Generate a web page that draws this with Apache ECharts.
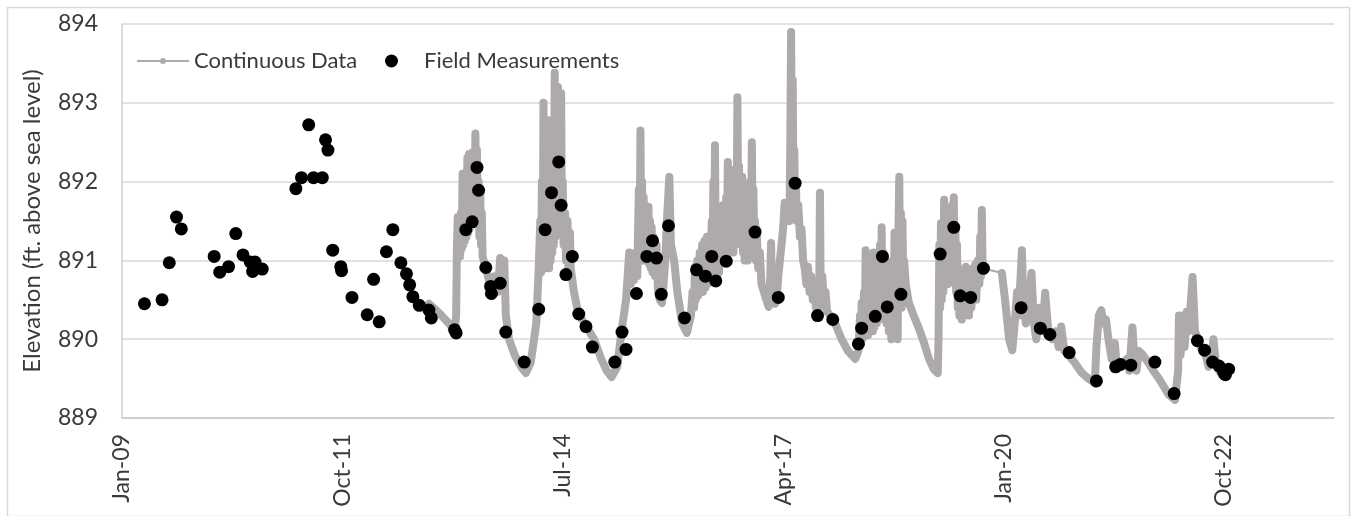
<!DOCTYPE html>
<html><head><meta charset="utf-8">
<script src="https://cdn.jsdelivr.net/npm/echarts@6/dist/echarts.min.js"></script>
<style>html,body{margin:0;padding:0;background:#fff}#c{width:1351px;height:516px}</style>
</head><body><div id="c"></div>
<script>
// X tick labels (every 33 months from Jan 2009)
const xTickLabels = ['Jan-09','Oct-11','Jul-14','Apr-17','Jan-20','Oct-22'];
const yTicks = [889, 890, 891, 892, 893, 894];

// Field measurements: date (decimal year) and elevation (ft)
const fieldYears = [2009.28,2009.50,2009.59,2009.68,2009.74,2010.15,2010.22,2010.33,2010.42,2010.51,2010.60,2010.66,2010.63,2010.75,
2011.17,2011.24,2011.33,2011.39,2011.50,2011.54,2011.57,2011.63,2011.73,2011.74,2011.87,2012.06,2012.14,2012.21,2012.30,2012.38,
2012.48,2012.55,2012.59,2012.63,2012.71,2012.83,2012.86,2013.15,2013.17,2013.29,2013.37,2013.43,2013.45,2013.54,2013.60,2013.61,
2013.72,2013.79,2014.02,2014.20,2014.28,2014.36,2014.45,2014.48,2014.54,2014.62,2014.70,2014.79,2014.87,2015.15,2015.24,2015.29,
2015.42,2015.55,2015.62,2015.67,2015.73,2015.82,2016.02,2016.17,2016.28,2016.36,2016.41,2016.54,2016.90,2017.19,2017.40,2017.68,
2017.87,2018.19,2018.23,2018.40,2018.49,2018.55,2018.72,2019.21,2019.38,2019.46,2019.59,2019.75,2020.22,2020.46,2020.58,2020.82,
2021.16,2021.40,2021.46,2021.59,2021.89,2022.13,2022.42,2022.51,2022.61,2022.69,2022.75,2022.77,2022.81];
const fieldValues = [890.45,890.50,890.97,891.55,891.40,891.05,890.85,890.92,891.34,891.07,890.98,890.98,890.86,890.89,
891.91,892.05,892.72,892.05,892.05,892.53,892.40,891.13,890.92,890.87,890.53,890.31,890.76,890.22,891.11,891.39,
890.97,890.83,890.69,890.54,890.43,890.37,890.27,890.12,890.08,891.39,891.49,892.18,891.89,890.91,890.67,890.58,
890.71,890.09,889.71,890.38,891.39,891.86,892.25,891.70,890.82,891.05,890.32,890.16,889.90,889.71,890.09,889.87,
890.58,891.05,891.25,891.03,890.57,891.44,890.27,890.88,890.80,891.05,890.74,890.99,891.36,890.53,891.98,890.30,
890.25,889.94,890.14,890.29,891.05,890.41,890.57,891.08,891.42,890.55,890.53,890.90,890.40,890.14,890.06,889.83,
889.47,889.65,889.68,889.67,889.71,889.31,889.98,889.86,889.71,889.66,889.57,889.55,889.62];

// Continuous logger record: [date (decimal year), elevation (ft)]; null = gap in record
const contPoints = [
[2012.83,890.45],[2012.96,890.33],[2013.08,890.20],[2013.15,890.10],[2013.17,890.30],
[2013.18,891.20],[2013.19,891.55],[2013.20,891.10],[2013.21,891.50],[2013.22,891.05],[2013.23,891.60],[2013.24,891.15],
[2013.25,892.10],[2013.26,891.20],[2013.27,892.05],[2013.28,891.25],[2013.29,892.12],[2013.30,891.30],[2013.31,892.30],
[2013.32,891.35],[2013.33,892.35],[2013.34,891.40],[2013.35,892.30],[2013.36,891.45],[2013.37,892.37],[2013.38,891.60],
[2013.39,892.20],[2013.40,891.70],[2013.41,892.61],[2013.42,891.80],[2013.43,892.40],[2013.44,891.50],[2013.45,892.00],
[2013.46,891.30],[2013.47,891.90],[2013.48,891.20],[2013.49,891.60],[2013.50,891.05],
[2013.54,890.90],[2013.58,890.75],[2013.62,890.55],[2013.65,890.80],[2013.69,890.60],[2013.72,891.03],[2013.74,890.65],
[2013.77,891.00],[2013.79,890.30],[2013.83,890.00],[2013.90,889.80],[2013.98,889.65],[2014.04,889.57],[2014.10,889.70],
[2014.17,890.20],
[2014.20,890.90],[2014.22,891.50],[2014.23,890.85],[2014.24,892.00],[2014.25,890.90],[2014.26,893.00],[2014.27,891.00],
[2014.28,892.40],[2014.29,890.90],[2014.30,892.70],[2014.31,891.00],[2014.32,892.78],[2014.33,890.90],[2014.34,892.50],
[2014.35,891.00],[2014.36,892.20],[2014.37,891.10],[2014.38,892.60],[2014.39,891.20],[2014.40,893.38],[2014.41,891.30],
[2014.42,892.90],[2014.43,891.40],[2014.44,893.20],[2014.45,891.60],[2014.46,892.50],[2014.47,891.50],[2014.48,893.12],
[2014.49,891.40],[2014.50,892.00],[2014.51,891.20],[2014.53,891.60],[2014.54,891.00],[2014.56,891.50],[2014.57,890.90],
[2014.59,891.35],[2014.60,890.90],
[2014.64,890.60],[2014.68,890.40],[2014.74,890.25],[2014.80,890.15],[2014.89,890.00],[2014.98,889.75],[2015.05,889.60],
[2015.11,889.52],[2015.18,889.65],[2015.24,890.15],[2015.29,890.50],
[2015.33,891.10],[2015.35,890.70],[2015.37,891.00],[2015.39,890.75],[2015.41,891.10],[2015.43,890.80],[2015.45,891.90],
[2015.46,891.00],[2015.47,892.65],[2015.48,891.10],[2015.49,892.00],[2015.50,891.00],[2015.51,891.80],[2015.52,891.05],
[2015.53,891.70],[2015.54,891.00],[2015.55,891.60],[2015.56,891.00],[2015.57,891.68],[2015.58,890.95],[2015.59,891.50],
[2015.60,890.90],[2015.61,891.42],[2015.62,890.85],[2015.63,891.30],[2015.65,890.80],[2015.67,891.20],[2015.69,890.60],
[2015.71,890.50],[2015.74,890.46],
[2015.78,891.00],[2015.80,891.50],[2015.83,892.06],[2015.85,891.20],[2015.89,891.00],[2015.93,890.60],[2015.99,890.20],
[2016.05,890.08],
[2016.10,890.30],[2016.12,890.60],[2016.14,890.40],[2016.15,890.92],[2016.16,890.50],[2016.18,891.00],[2016.19,890.55],
[2016.21,891.10],[2016.22,890.60],[2016.24,891.20],[2016.25,890.60],[2016.27,891.25],[2016.28,890.65],[2016.30,891.30],
[2016.31,890.70],[2016.33,891.30],[2016.34,890.75],[2016.36,891.50],[2016.37,890.80],[2016.38,892.00],[2016.39,890.85],
[2016.40,892.46],[2016.41,890.90],[2016.42,891.60],[2016.43,890.80],[2016.44,891.40],[2016.45,890.85],[2016.46,891.50],
[2016.47,891.00],[2016.48,891.60],[2016.49,891.05],[2016.50,891.70],[2016.51,891.10],[2016.52,891.60],[2016.53,891.10],
[2016.54,891.80],[2016.55,891.10],[2016.56,892.25],[2016.57,891.15],[2016.58,891.70],[2016.59,891.10],[2016.60,892.15],
[2016.61,891.20],[2016.62,891.60],[2016.63,891.10],[2016.64,891.80],[2016.65,891.20],[2016.66,892.00],[2016.67,891.30],
[2016.68,893.07],[2016.69,891.40],[2016.70,892.20],[2016.71,891.30],[2016.72,891.90],[2016.73,891.20],[2016.74,892.06],
[2016.75,891.10],[2016.76,891.60],[2016.77,891.00],[2016.78,891.50],[2016.79,891.05],[2016.80,891.70],[2016.81,891.00],
[2016.82,891.60],[2016.83,891.10],[2016.84,892.00],[2016.85,891.20],[2016.86,892.50],[2016.87,891.30],[2016.88,891.90],
[2016.89,891.10],[2016.90,891.50],[2016.91,891.00],[2016.92,891.40],[2016.94,890.90],[2016.96,891.10],[2016.98,890.70],
[2017.01,890.60],[2017.04,890.50],[2017.07,890.41],[2017.09,890.80],[2017.10,891.22],[2017.11,890.70],[2017.13,890.60],
[2017.15,890.45],[2017.17,890.50],[2017.19,890.80],[2017.21,891.00],[2017.23,891.20],[2017.25,891.40],[2017.27,891.73],
[2017.29,891.50],[2017.31,891.70],[2017.33,891.50],[2017.34,892.50],[2017.35,893.90],[2017.36,892.00],[2017.37,893.29],
[2017.38,891.80],[2017.39,892.40],[2017.40,891.60],[2017.41,892.00],[2017.42,891.50],[2017.44,891.70],[2017.46,891.30],
[2017.48,891.40],[2017.50,891.00],[2017.52,890.90],[2017.54,890.70],[2017.56,890.92],[2017.58,890.60],[2017.60,890.80],
[2017.62,890.50],[2017.64,890.70],[2017.66,890.40],[2017.68,890.60],[2017.70,890.40],[2017.71,891.86],[2017.72,890.50],
[2017.74,890.80],[2017.76,890.45],[2017.78,890.60],[2017.80,890.35],[2017.84,890.30],[2017.90,890.20],[2017.98,890.00],
[2018.06,889.85],[2018.15,889.75],
[2018.19,889.85],[2018.21,890.30],[2018.22,889.95],[2018.23,890.46],[2018.24,890.00],[2018.26,890.60],[2018.27,890.05],
[2018.28,891.13],[2018.29,890.10],[2018.30,890.50],[2018.31,890.05],[2018.33,890.40],[2018.34,890.10],[2018.36,890.60],
[2018.37,890.10],[2018.38,891.10],[2018.39,890.15],[2018.41,890.70],[2018.42,890.20],[2018.44,890.90],[2018.45,890.25],
[2018.46,891.20],[2018.47,890.30],[2018.48,891.42],[2018.49,890.40],[2018.50,891.10],[2018.51,890.30],[2018.53,891.00],
[2018.54,890.20],[2018.56,890.80],[2018.57,890.10],[2018.59,890.90],[2018.60,890.00],[2018.62,891.00],[2018.63,890.10],
[2018.64,891.35],[2018.65,890.20],[2018.67,890.80],[2018.68,890.00],[2018.69,891.40],[2018.70,892.06],[2018.71,890.50],
[2018.72,891.60],[2018.73,890.40],[2018.74,891.50],[2018.75,890.60],[2018.76,891.00],[2018.78,890.70],[2018.82,890.46],
[2018.88,890.30],[2018.94,890.15],[2019.01,889.95],[2019.07,889.75],[2019.13,889.62],[2019.18,889.57],
[2019.19,890.00],[2019.20,891.20],[2019.21,890.40],[2019.22,891.47],[2019.23,890.50],[2019.24,891.30],[2019.25,890.60],
[2019.26,891.77],[2019.27,890.70],[2019.28,891.40],[2019.29,890.80],[2019.30,891.50],[2019.31,890.70],[2019.32,891.40],
[2019.33,890.80],[2019.34,891.50],[2019.35,890.90],[2019.36,891.70],[2019.37,890.90],[2019.38,891.80],[2019.39,891.00],
[2019.40,891.40],[2019.41,890.60],[2019.42,891.20],[2019.43,890.40],[2019.44,890.90],[2019.45,890.30],[2019.47,890.70],
[2019.48,890.25],[2019.50,890.80],[2019.51,890.30],[2019.53,890.92],[2019.54,890.40],[2019.56,890.80],[2019.57,890.30],
[2019.59,890.70],[2019.60,890.40],[2019.62,890.90],[2019.63,890.50],[2019.65,890.95],[2019.66,890.50],[2019.68,891.00],
[2019.70,890.70],[2019.71,891.30],[2019.72,890.80],[2019.73,891.64],[2019.74,890.90],[2019.76,890.90],
[2019.87,null],
[2019.98,890.84],[2020.02,890.50],[2020.07,890.00],[2020.11,889.86],[2020.14,890.20],[2020.17,890.60],[2020.19,890.30],
[2020.23,891.13],[2020.25,890.40],[2020.28,890.20],[2020.32,890.50],[2020.35,890.84],[2020.38,890.20],[2020.41,890.00],
[2020.45,890.40],[2020.49,890.10],[2020.52,890.59],[2020.56,890.10],[2020.61,890.00],[2020.65,890.10],[2020.69,889.90],
[2020.72,890.16],[2020.76,889.85],[2020.81,889.80],[2020.89,889.70],[2020.98,889.57],[2021.06,889.50],[2021.14,889.44],
[2021.16,889.90],[2021.19,890.30],[2021.22,890.37],[2021.25,890.20],[2021.28,890.25],[2021.31,890.00],[2021.35,889.75],
[2021.39,889.95],[2021.41,889.70],[2021.47,889.65],[2021.54,889.75],[2021.57,889.60],[2021.61,890.15],[2021.63,889.80],
[2021.66,889.60],[2021.69,889.85],[2021.74,889.80],[2021.81,889.70],[2021.87,889.60],[2021.94,889.50],[2022.00,889.40],
[2022.06,889.30],[2022.14,889.23],[2022.18,889.60],[2022.19,890.30],[2022.21,889.80],[2022.24,890.30],[2022.26,889.90],
[2022.29,890.35],[2022.31,890.10],[2022.34,890.50],[2022.36,890.79],[2022.39,890.10],[2022.43,890.00],[2022.46,889.90],
[2022.51,889.85],[2022.56,889.65],[2022.60,889.70],[2022.62,890.00],[2022.65,889.70],[2022.69,889.60],[2022.74,889.62],
[2022.78,889.57]
];

// x axis is measured in months since Jan 2009
const toMonths = y => (y - 2009) * 12;
const contData = contPoints.map(p => [toMonths(p[0]), p[1] === null ? '-' : p[1]]);
const fieldData = fieldYears.map((y, i) => [toMonths(y), fieldValues[i]]);

const FONT = 'Lato, "Open Sans", sans-serif';
const TXT = '#3a3a3a';
const GRAY = '#aeaaaa';
const chart = echarts.init(document.getElementById('c'), null, {renderer: 'canvas'});
chart.setOption({
  animation: false,
  backgroundColor: '#fff',
  graphic: [{
    type: 'rect', left: 5, top: 5, z: -10,
    shape: {width: 1342, height: 509},
    style: {fill: 'none', stroke: '#d9d9d9', lineWidth: 1.5}
  }],
  grid: {left: 122, right: 17, top: 24, bottom: 98},
  legend: [{
    left: 132, top: 45, itemWidth: 52, itemHeight: 13,
    textStyle: {fontSize: 22, color: TXT, fontFamily: FONT},
    data: [{name: 'Continuous Data', icon: 'path://M0,5 L52,5 L52,7 L0,7 Z M23,6 A3,3 0 1,1 29,6 A3,3 0 1,1 23,6 Z'}]
  }, {
    left: 380, top: 45, itemWidth: 13, itemHeight: 13,
    textStyle: {fontSize: 22, color: TXT, fontFamily: FONT, padding: [0, 0, 0, 21]},
    data: [{name: 'Field Measurements', icon: 'circle'}]
  }],
  xAxis: {
    type: 'value', min: 0, max: 181.5, interval: 33,
    axisLine: {show: true, lineStyle: {color: '#c8c8c8', width: 1.5}},
    axisTick: {show: false},
    splitLine: {show: false},
    axisLabel: {
      rotate: 90, margin: 16, fontSize: 23, color: TXT, fontFamily: FONT,
      formatter: v => {
        const k = v / 33;
        return (Number.isInteger(k) && k < xTickLabels.length) ? xTickLabels[k] : '';
      }
    }
  },
  yAxis: {
    type: 'value', min: yTicks[0], max: yTicks[yTicks.length - 1], interval: 1,
    name: 'Elevation (ft. above sea level)', nameLocation: 'middle', nameGap: 78,
    nameTextStyle: {fontSize: 24, color: TXT, fontFamily: FONT},
    axisLine: {show: true, lineStyle: {color: '#d0d0d0', width: 1.5}},
    axisTick: {show: false},
    splitLine: {lineStyle: {color: '#d9d9d9', width: 1.5}},
    axisLabel: {margin: 24, fontSize: 23, color: TXT, fontFamily: FONT}
  },
  series: [{
    // thin connector drawn under the record, visible only across the data gap
    name: 'record-gap', type: 'line', data: contData, connectNulls: true,
    showSymbol: false, silent: true,
    lineStyle: {width: 2, color: GRAY}, z: 1
  }, {
    name: 'Continuous Data', type: 'line', data: contData, connectNulls: false,
    symbol: 'circle', showSymbol: false, symbolSize: 5,
    color: GRAY,
    lineStyle: {width: 8, color: GRAY, join: 'round', cap: 'round'},
    z: 2
  }, {
    name: 'Field Measurements', type: 'scatter', data: fieldData,
    symbol: 'circle', symbolSize: 13,
    itemStyle: {color: '#000', opacity: 1},
    z: 3
  }]
});
</script>
</body></html>
